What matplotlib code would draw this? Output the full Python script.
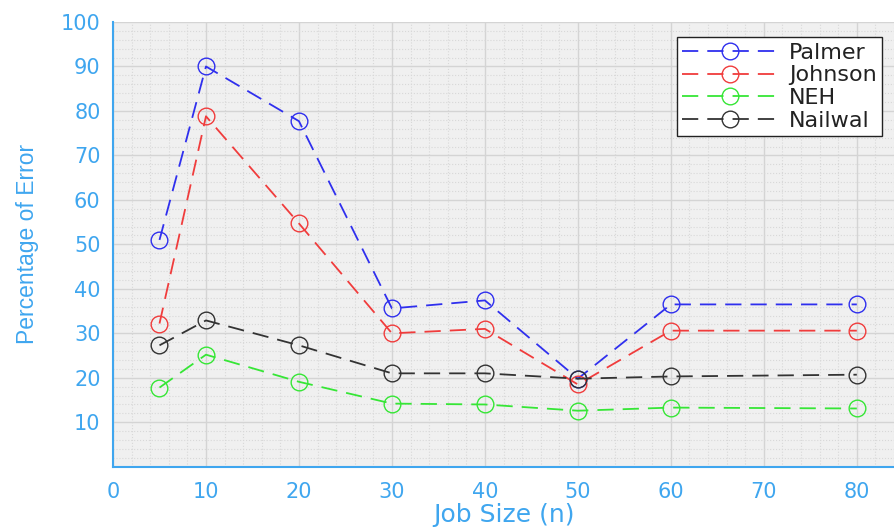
import numpy as np
import matplotlib
matplotlib.use('Agg')
import matplotlib.pyplot as plt
from matplotlib.ticker import MultipleLocator

# ── Datos ──────────────────────────────────────────────
job_size = [5, 10, 20, 30, 40, 50, 60, 80]
palmer   = [51.0, 90.0, 77.7, 35.6, 37.4, 19.8, 36.5, 36.5]
johnson  = [32.2, 78.8, 54.7, 30.0, 31.0, 18.5, 30.6, 30.6]
neh      = [17.8, 25.2, 19.1, 14.2, 14.0, 12.6, 13.3, 13.1]
nailwal  = [27.3, 32.9, 27.3, 21.0, 21.0, 19.8, 20.3, 20.7]

x_ticks = [0, 10, 20, 30, 40, 50, 60, 70, 80]
y_ticks = [10, 20, 30, 40, 50, 60, 70, 80, 90, 100]

# ── Colores ────────────────────────────────────────────
AXIS_C = '#3fa6ef'
BG     = '#f0f0f0'
GRID_C = '#d4d4d4'
FONT   = ['DejaVu Sans']

series = [
    ('Palmer',  palmer,  '#2f2fee'),
    ('Johnson', johnson, '#f03c3c'),
    ('NEH',     neh,     '#36e636'),
    ('Nailwal', nailwal, '#333333'),
]

fig = plt.figure(figsize=(8.94, 5.31), dpi=100)
ax = fig.add_axes([0.1264, 0.121, 0.8736, 0.8376])
ax.set_facecolor(BG)

for name, vals, col in series:
    ax.plot(job_size, vals, color=col, linestyle=(0, (9, 5)), linewidth=1.3,
            marker='o', markersize=12, markerfacecolor='none',
            markeredgecolor=col, markeredgewidth=1.0, label=name)

ax.set_xlim(0, 84)
ax.set_ylim(0, 100)
ax.set_xticks(x_ticks)
ax.set_yticks(y_ticks)
ax.xaxis.set_minor_locator(MultipleLocator(2))
ax.yaxis.set_minor_locator(MultipleLocator(2))
ax.grid(which='major', color=GRID_C, linewidth=1.0)
ax.grid(which='minor', color='#d8d8d8', linewidth=0.8, linestyle=':')
ax.set_axisbelow(True)

for sp in ('top', 'right'):
    ax.spines[sp].set_visible(False)
for sp in ('left', 'bottom'):
    ax.spines[sp].set_color(AXIS_C)
    ax.spines[sp].set_linewidth(1.5)

ax.tick_params(which='both', length=0, colors=AXIS_C, labelsize=15)
ax.tick_params(axis='x', pad=11)
ax.tick_params(axis='y', pad=9)
for lbl in ax.get_xticklabels() + ax.get_yticklabels():
    lbl.set_family(FONT)
    lbl.set_color(AXIS_C)

ax.set_xlabel('Job Size (n)', color=AXIS_C, fontsize=18,
              family=FONT, labelpad=1)
ax.set_ylabel('Percentage of Error', color=AXIS_C, fontsize=16.5,
              family=['Liberation Sans', 'DejaVu Sans'], labelpad=16)

leg = ax.legend(loc='upper right', bbox_to_anchor=(0.985, 0.966),
                fancybox=False, edgecolor='#222222', framealpha=1.0,
                prop={'family': FONT, 'size': 16},
                handlelength=4.3, borderpad=0.25, labelspacing=0.12,
                handletextpad=0.5, borderaxespad=0.0)
leg.get_frame().set_linewidth(1.0)
for t in leg.get_texts():
    t.set_color('#222222')

plt.savefig('out.png', dpi=100, facecolor='white')
